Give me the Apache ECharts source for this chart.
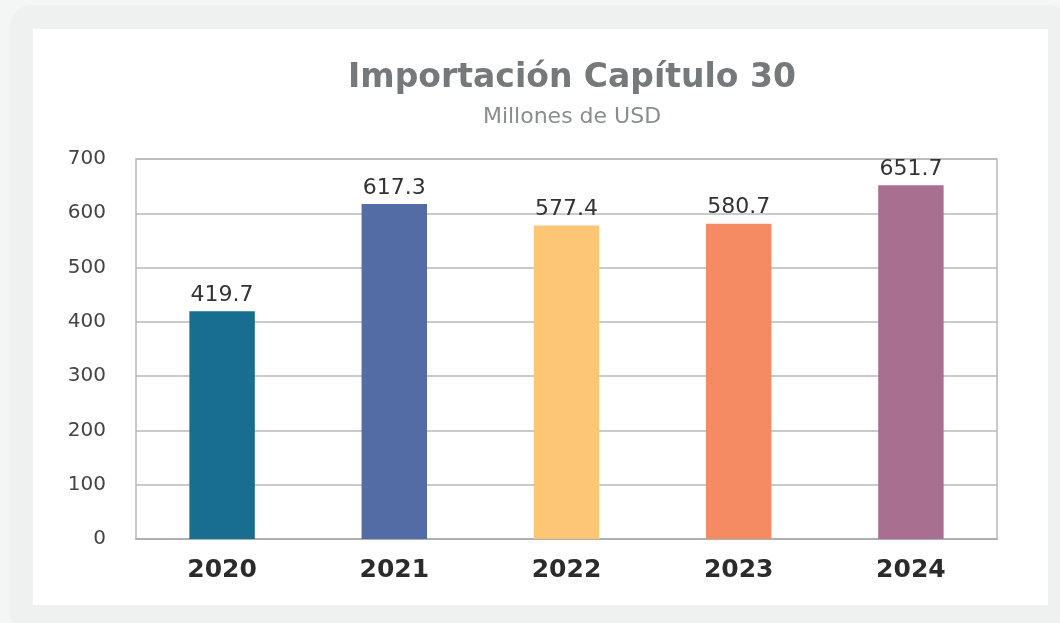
<!DOCTYPE html>
<html><head><meta charset="utf-8">
<script src="https://cdn.jsdelivr.net/npm/echarts@6/dist/echarts.min.js"></script>
<style>html,body{margin:0;padding:0;background:#f4f5f5}#c{width:1060px;height:623px}</style>
</head><body><div id="c"></div>
<script>
const categories = ['2020','2021','2022','2023','2024'];
const values = [419.7, 617.3, 577.4, 580.7, 651.7];
const barColors = ['#176e8f','#546ca6','#fdc674','#f58b63','#a86f90'];
const yTicks = [0,100,200,300,400,500,600,700];
const FONT = 'DejaVu Sans';

const chart = echarts.init(document.getElementById('c'), null, {renderer:'canvas'});
chart.setOption({
  backgroundColor:'#f4f5f5',
  graphic:[
    {type:'rect', z:-10, shape:{x:10,y:5,width:1060,height:630,r:22}, style:{fill:'#eff0f0'}},
    {type:'rect', z:-9, shape:{x:33,y:29,width:1015,height:576}, style:{fill:'#ffffff'}}
  ],
  title:{
    text:'Importación Capítulo 30', subtext:'Millones de USD',
    left:567, top:57, textAlign:'center', itemGap:11,
    textStyle:{fontFamily:FONT, fontWeight:'bold', fontSize:33, color:'#75797b'},
    subtextStyle:{fontFamily:FONT, fontSize:22, color:'#8a8d8f'}
  },
  grid:{left:136, right:63, top:159, bottom:84, show:true, borderColor:'#b8b9bd', borderWidth:1.5},
  xAxis:{
    type:'category', data:categories,
    axisLine:{show:true, lineStyle:{color:'#a9aaae', width:1.5}},
    axisTick:{show:false},
    axisLabel:{fontFamily:FONT, fontWeight:'bold', fontSize:25, color:'#2b2b2b', margin:19}
  },
  yAxis:{
    type:'value', min:0, max:700, interval:100,
    axisLine:{show:false}, axisTick:{show:false},
    splitLine:{lineStyle:{color:'#b8b9bd', width:1.5}},
    axisLabel:{fontFamily:FONT, fontSize:20, color:'#444', margin:30,
      formatter:v=> yTicks.includes(v) ? String(v) : ''}
  },
  series:[{
    type:'bar', barWidth:'38%',
    data: values.map((v,i)=>({value:v, itemStyle:{color:barColors[i]}})),
    label:{show:true, position:'top', distance:5, fontFamily:FONT, fontSize:22, color:'#333',
      formatter:p=>p.value.toFixed(1)}
  }]
});
</script></body></html>
